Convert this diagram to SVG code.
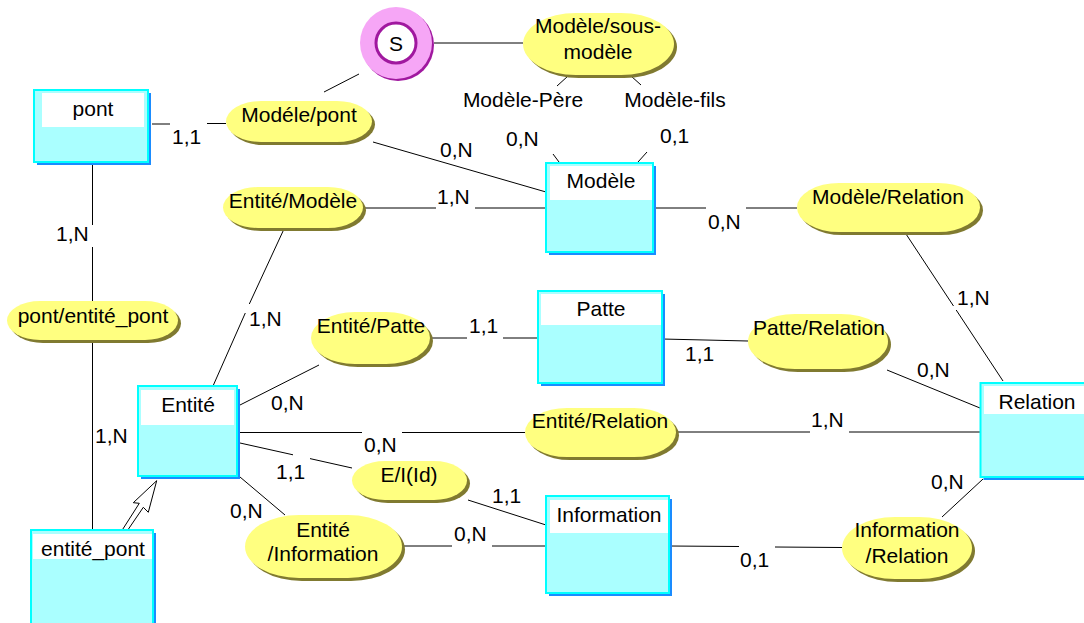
<svg xmlns="http://www.w3.org/2000/svg" width="1084" height="623" viewBox="0 0 1084 623">
<style>
text{font-family:"Liberation Sans",Arial,sans-serif;font-size:21px;fill:#000}
.c{text-anchor:middle}
.ln{fill:none;stroke:#000;stroke-width:1}
.ent .sh{fill:#1a8cff}
.ent .bd{fill:#aaffff;stroke:#00ffff;stroke-width:2}
.ent .hd{fill:#fff}
.rel .sh{fill:#807a30}
.rel .bd{fill:#ffff80}
</style>
<rect width="1084" height="623" fill="#fff"/>

<g id="connectors" class="ln">
  <path d="M434 43 H523"/>
  <path d="M359 74 L324 92"/>
  <path d="M568 76 L557 86 M631 76 L641 85 M553 154 L559 162 M647 152 L638 162"/>
  <path d="M152 124 H170 M207 123.5 H226"/>
  <path d="M373 142 L546 192"/>
  <path d="M363 208 H436 M475 208 H546"/>
  <path d="M284 229 L249.3 304 M245.3 313 L213 386"/>
  <path d="M653 208 H706 M746 208 H797"/>
  <path d="M906 234 L953.5 306 M956.2 310 L1003 381"/>
  <path d="M240 405 L319 365"/>
  <path d="M430 338 H467 M503 338 H538"/>
  <path d="M662 339 L748 341"/>
  <path d="M887 370 L980 408"/>
  <path d="M237 432.5 H362 M402 432.5 H525"/>
  <path d="M676 432 H810 M849 432 H980"/>
  <path d="M240 443 L293 454.8 M310 458.6 L352 468"/>
  <path d="M468 500 L546 525"/>
  <path d="M240 477 L285 515"/>
  <path d="M402 546 H452 M492 546 H546"/>
  <path d="M669 546 L739 546.5 M775 547 L842 547.5"/>
  <path d="M942 517 L983 479"/>
  <path d="M92.5 165 V225 M92.5 247 V301"/>
  <path d="M92.5 340 V530"/>
  <path d="M122.7 529.3 L139.3 503.3 L133.3 502.7 L156.7 480.7 L148.3 512.3 L143.3 507.3 L128.3 529.3" fill="#fff" stroke="#000"/>
</g>

<g id="labels">
  <text x="172" y="144">1,1</text>
  <text x="440" y="157">0,N</text>
  <text x="437" y="204">1,N</text>
  <text x="506" y="146">0,N</text>
  <text x="660" y="143">0,1</text>
  <text class="c" x="523" y="107">Modèle-Père</text>
  <text class="c" x="675" y="107">Modèle-fils</text>
  <text x="708" y="229">0,N</text>
  <text x="957" y="305">1,N</text>
  <text x="249" y="326">1,N</text>
  <text x="469" y="333">1,1</text>
  <text x="685" y="361">1,1</text>
  <text x="917" y="377">0,N</text>
  <text x="271" y="410">0,N</text>
  <text x="811" y="427">1,N</text>
  <text x="364" y="452">0,N</text>
  <text x="276" y="479">1,1</text>
  <text x="492" y="503">1,1</text>
  <text x="230" y="518">0,N</text>
  <text x="454" y="541">0,N</text>
  <text x="740" y="567">0,1</text>
  <text x="931" y="489">0,N</text>
  <text x="56" y="241">1,N</text>
  <text x="95" y="443">1,N</text>
</g>

<g id="S">
  <circle cx="398" cy="45" r="36" fill="#a0189f"/>
  <circle cx="396" cy="43" r="36" fill="#f6a6f6"/>
  <circle cx="396" cy="43" r="20" fill="#fff" stroke="#a0189f" stroke-width="3"/>
  <text class="c" x="396" y="51">S</text>
</g>

<g id="pont" class="ent">
  <rect class="sh" x="37" y="93" width="114" height="72"/>
  <rect class="bd" x="34" y="90" width="114" height="72"/>
  <rect class="hd" x="42" y="93" width="102" height="34"/>
  <text class="c" x="93" y="116">pont</text>
</g>
<g id="modele" class="ent">
  <rect class="sh" x="549" y="166" width="107" height="89"/>
  <rect class="bd" x="546" y="163" width="107" height="89"/>
  <rect class="hd" x="550" y="166" width="102" height="34"/>
  <text class="c" x="601" y="188">Modèle</text>
</g>
<g id="patte" class="ent">
  <rect class="sh" x="541" y="294" width="124" height="92"/>
  <rect class="bd" x="538" y="291" width="124" height="92"/>
  <rect class="hd" x="541" y="294" width="120" height="31"/>
  <text class="c" x="601" y="316">Patte</text>
</g>
<g id="entite" class="ent">
  <rect class="sh" x="141" y="389" width="99" height="90"/>
  <rect class="bd" x="138" y="386" width="99" height="90"/>
  <rect class="hd" x="141" y="390" width="93" height="35"/>
  <text class="c" x="188" y="412">Entité</text>
</g>
<g id="entite_pont" class="ent">
  <rect class="sh" x="34" y="533" width="122" height="100"/>
  <rect class="bd" x="31" y="530" width="122" height="100"/>
  <rect class="hd" x="33" y="534" width="119" height="25"/>
  <text class="c" x="93" y="556">entité_pont</text>
</g>
<g id="information" class="ent">
  <rect class="sh" x="549" y="499" width="123" height="97"/>
  <rect class="bd" x="546" y="496" width="123" height="97"/>
  <rect class="hd" x="550" y="500" width="118" height="33"/>
  <text class="c" x="609" y="522">Information</text>
</g>
<g id="relation" class="ent">
  <rect class="sh" x="983.5" y="386" width="110" height="94"/>
  <rect class="bd" x="980.5" y="383" width="110" height="94"/>
  <rect class="hd" x="984" y="386" width="106" height="28"/>
  <text class="c" x="1037" y="409">Relation</text>
</g>

<g id="modele_sous_modele" class="rel">
  <rect class="sh" x="526" y="16" width="151" height="62" rx="53" ry="31"/>
  <rect class="bd" x="523" y="13" width="151" height="62" rx="53" ry="31"/>
  <text class="c" x="598" y="33">Modèle/sous-</text>
  <text class="c" x="598" y="59">modèle</text>
</g>
<g id="modele_pont" class="rel">
  <rect class="sh" x="229" y="104" width="146" height="41" rx="35" ry="20.5"/>
  <rect class="bd" x="226" y="101" width="146" height="41" rx="35" ry="20.5"/>
  <text class="c" x="299" y="122">Modéle/pont</text>
</g>
<g id="entite_modele" class="rel">
  <rect class="sh" x="226" y="190" width="140" height="41" rx="35" ry="20.5"/>
  <rect class="bd" x="223" y="187" width="140" height="41" rx="35" ry="20.5"/>
  <text class="c" x="293" y="208">Entité/Modèle</text>
</g>
<g id="modele_relation" class="rel">
  <rect class="sh" x="800" y="186" width="183" height="49" rx="42" ry="24.5"/>
  <rect class="bd" x="797" y="183" width="183" height="49" rx="42" ry="24.5"/>
  <text class="c" x="888" y="204">Modèle/Relation</text>
</g>
<g id="entite_patte" class="rel">
  <rect class="sh" x="314" y="315" width="119" height="52" rx="44" ry="26"/>
  <rect class="bd" x="311" y="312" width="119" height="52" rx="44" ry="26"/>
  <text class="c" x="371" y="333">Entité/Patte</text>
</g>
<g id="patte_relation" class="rel">
  <rect class="sh" x="751" y="317" width="140" height="55" rx="47" ry="27.5"/>
  <rect class="bd" x="748" y="314" width="140" height="55" rx="47" ry="27.5"/>
  <text class="c" x="819" y="335">Patte/Relation</text>
</g>
<g id="entite_relation" class="rel">
  <rect class="sh" x="528" y="411" width="151" height="49" rx="42" ry="24.5"/>
  <rect class="bd" x="525" y="408" width="151" height="49" rx="42" ry="24.5"/>
  <text class="c" x="600" y="428">Entité/Relation</text>
</g>
<g id="ei_id" class="rel">
  <rect class="sh" x="355" y="464" width="115" height="39" rx="33" ry="19.5"/>
  <rect class="bd" x="352" y="461" width="115" height="39" rx="33" ry="19.5"/>
  <text class="c" x="409" y="482">E/I(Id)</text>
</g>
<g id="entite_information" class="rel">
  <rect class="sh" x="248" y="518" width="157" height="63" rx="54" ry="31.5"/>
  <rect class="bd" x="245" y="515" width="157" height="63" rx="54" ry="31.5"/>
  <text class="c" x="323" y="537">Entité</text>
  <text class="c" x="323" y="561">/Information</text>
</g>
<g id="information_relation" class="rel">
  <rect class="sh" x="845" y="520" width="130" height="62" rx="53" ry="31"/>
  <rect class="bd" x="842" y="517" width="130" height="62" rx="53" ry="31"/>
  <text class="c" x="907" y="537">Information</text>
  <text class="c" x="907" y="563">/Relation</text>
</g>
<g id="pont_entite_pont" class="rel">
  <rect class="sh" x="10" y="304" width="171" height="39" rx="33" ry="19.5"/>
  <rect class="bd" x="7" y="301" width="171" height="39" rx="33" ry="19.5"/>
  <text class="c" x="93" y="323">pont/entité_pont</text>
</g>
</svg>
